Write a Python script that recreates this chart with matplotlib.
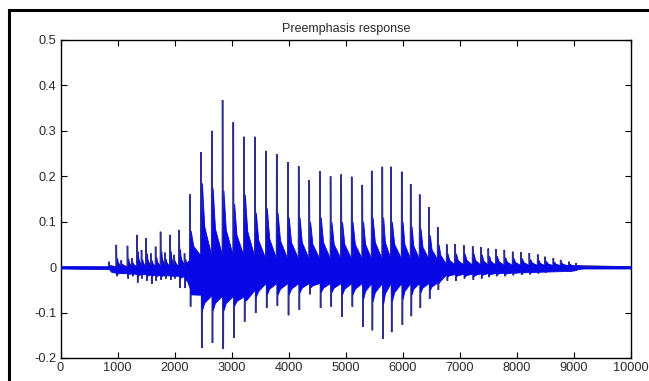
import numpy as np
import matplotlib
matplotlib.use("Agg")
import matplotlib.pyplot as plt
from matplotlib.patches import Rectangle

# ---- data ----
# pitch pulses: sample index, thin spike top, dense-part top, thin spike bottom, dense-part bottom
pulse_x = [850, 978, 1065, 1174, 1254, 1341, 1420, 1500, 1587, 1667, 1754, 1833, 1920, 1993,
           2080, 2174, 2268, 2464, 2652, 2841, 3029, 3216, 3409, 3602, 3790, 3985, 4175,
           4360, 4547, 4734, 4920, 5104, 5290, 5455, 5641, 5793, 5981, 6138, 6296, 6459,
           6612, 6770, 6918, 7070, 7225, 7371, 7499, 7634, 7780, 7926, 8072, 8218, 8365,
           8493, 8639, 8767, 8913, 9036]
spike_top = [0.012, 0.049, 0.015, 0.047, 0.020, 0.071, 0.038, 0.064, 0.030, 0.045, 0.078, 0.032,
             0.071, 0.027, 0.082, 0.030, 0.160, 0.253, 0.300, 0.368, 0.319, 0.287, 0.287, 0.256,
             0.249, 0.231, 0.222, 0.192, 0.211, 0.200, 0.204, 0.199, 0.181, 0.212, 0.221, 0.221,
             0.210, 0.183, 0.160, 0.132, 0.088, 0.050, 0.051, 0.048, 0.046, 0.044, 0.041, 0.040,
             0.038, 0.034, 0.033, 0.031, 0.028, 0.023, 0.020, 0.016, 0.012, 0.009]
fill_top = [0.005, 0.020, 0.008, 0.020, 0.010, 0.035, 0.018, 0.030, 0.015, 0.022, 0.035, 0.018,
            0.035, 0.014, 0.040, 0.018, 0.080, 0.185, 0.174, 0.169, 0.140, 0.160, 0.120, 0.130,
            0.120, 0.110, 0.110, 0.100, 0.110, 0.100, 0.100, 0.100, 0.100, 0.110, 0.110, 0.100,
            0.100, 0.090, 0.085, 0.070, 0.050, 0.030, 0.030, 0.030, 0.030, 0.028, 0.025, 0.025,
            0.022, 0.020, 0.020, 0.018, 0.016, 0.014, 0.012, 0.010, 0.007, 0.005]
spike_bot = [-0.005, -0.020, -0.015, -0.025, -0.020, -0.034, -0.025, -0.030, -0.037, -0.030,
             -0.028, -0.025, -0.028, -0.025, -0.046, -0.046, -0.087, -0.178, -0.167, -0.180,
             -0.156, -0.120, -0.101, -0.090, -0.085, -0.106, -0.094, -0.060, -0.090, -0.087,
             -0.109, -0.087, -0.131, -0.139, -0.158, -0.143, -0.127, -0.108, -0.090, -0.070,
             -0.050, -0.030, -0.030, -0.025, -0.028, -0.025, -0.022, -0.020, -0.020, -0.018,
             -0.017, -0.016, -0.014, -0.012, -0.010, -0.008, -0.006, -0.004]
fill_bot = [-0.003, -0.015, -0.010, -0.015, -0.012, -0.020, -0.015, -0.020, -0.020, -0.020,
            -0.020, -0.015, -0.020, -0.015, -0.025, -0.030, -0.060, -0.095, -0.095, -0.095,
            -0.085, -0.075, -0.065, -0.060, -0.060, -0.060, -0.055, -0.045, -0.055, -0.055,
            -0.060, -0.060, -0.070, -0.075, -0.080, -0.075, -0.070, -0.060, -0.055, -0.050,
            -0.035, -0.020, -0.020, -0.020, -0.020, -0.018, -0.017, -0.015, -0.015, -0.013,
            -0.012, -0.012, -0.010, -0.009, -0.008, -0.006, -0.005, -0.003]
# background band of the dense oscillation
band_x = [0, 840, 900, 2200, 2300, 3300, 3500, 6600, 6700, 9000, 9100, 10000]
band_hi = [0.002, 0.002, 0.000, 0.003, 0.025, 0.025, 0.018, 0.018, 0.006, 0.004, 0.002, 0.002]
band_lo = [-0.003, -0.003, -0.012, -0.020, -0.060, -0.065, -0.035, -0.035, -0.016, -0.008, -0.003, -0.003]

x_ticks = [0, 1000, 2000, 3000, 4000, 5000, 6000, 7000, 8000, 9000, 10000]
y_ticks = [-0.2, -0.1, 0, 0.1, 0.2, 0.3, 0.4, 0.5]
y_tick_labels = ["-0.2", "-0.1", "0", "0.1", "0.2", "0.3", "0.4", "0.5"]
title = "Preemphasis response"

# ---- figure ----
plt.rcParams['font.family'] = ['Liberation Sans', 'DejaVu Sans']
W, H = 649, 381
fig = plt.figure(figsize=(W / 100, H / 100), dpi=100)
fig.patch.set_facecolor('white')
ax = fig.add_axes([60.5 / W, 1 - 358 / H, 570.5 / W, 318 / H])

# thin spikes polyline
sx, sy = [0], [0.0]
for i, x in enumerate(pulse_x):
    sx += [x - 4, x, x + 6, x + 12, x + 20]
    sy += [0.0, spike_top[i], fill_top[i] * 0.5, spike_bot[i], fill_top[i] * 0.6]
sx.append(10000)
sy.append(0.0)
ax.plot(sx, sy, color='#2e2e8c', lw=1.1, zorder=2, solid_joinstyle='miter')

# dense filled oscillation envelope (sawtooth decaying after each pulse)
ex, up, lo = [0.0], [band_hi[0]], [band_lo[0]]
for i, x in enumerate(pulse_x):
    nxt = pulse_x[i + 1] if i + 1 < len(pulse_x) else x + 120
    p = nxt - x
    xs = [x, x + 15, x + 0.3 * p, nxt - 6]
    bh = np.interp(xs, band_x, band_hi)
    bl = np.interp(xs, band_x, band_lo)
    ex += xs
    up += [bh[0], max(bh[1], fill_top[i]), max(bh[2], bh[2] + 0.4 * (fill_top[i] - bh[2])), bh[3]]
    lo += [bl[0], min(bl[1], fill_bot[i]), min(bl[2], bl[2] + 0.5 * (fill_bot[i] - bl[2])), bl[3]]
ex.append(10000.0)
up.append(band_hi[-1])
lo.append(band_lo[-1])
ax.fill_between(ex, lo, up, color='#0808e6', lw=0.6, edgecolor='#0808e6', zorder=3)

ax.set_xlim(0, 10000)
ax.set_ylim(-0.2, 0.5)
ax.set_xticks(x_ticks)
ax.set_xticklabels([str(t) for t in x_ticks])
ax.set_yticks(y_ticks)
ax.set_yticklabels(y_tick_labels)
ax.tick_params(direction='in', length=4, width=0.8, top=True, right=True,
               labelsize=9.2, labelcolor='#2a2a2a', pad=3)
for s in ax.spines.values():
    s.set_linewidth(1.0)
    s.set_color('black')
ax.set_title(title, fontsize=9, color='#2a2a2a', pad=6)

# black outer frame of the screenshot
fig.add_artist(Rectangle((9 / W, -0.1), 1.2, 1 - 10 / H + 0.1, transform=fig.transFigure,
                         fill=False, edgecolor='black', lw=2.2, clip_on=False))

fig.savefig('out.png', dpi=100)
